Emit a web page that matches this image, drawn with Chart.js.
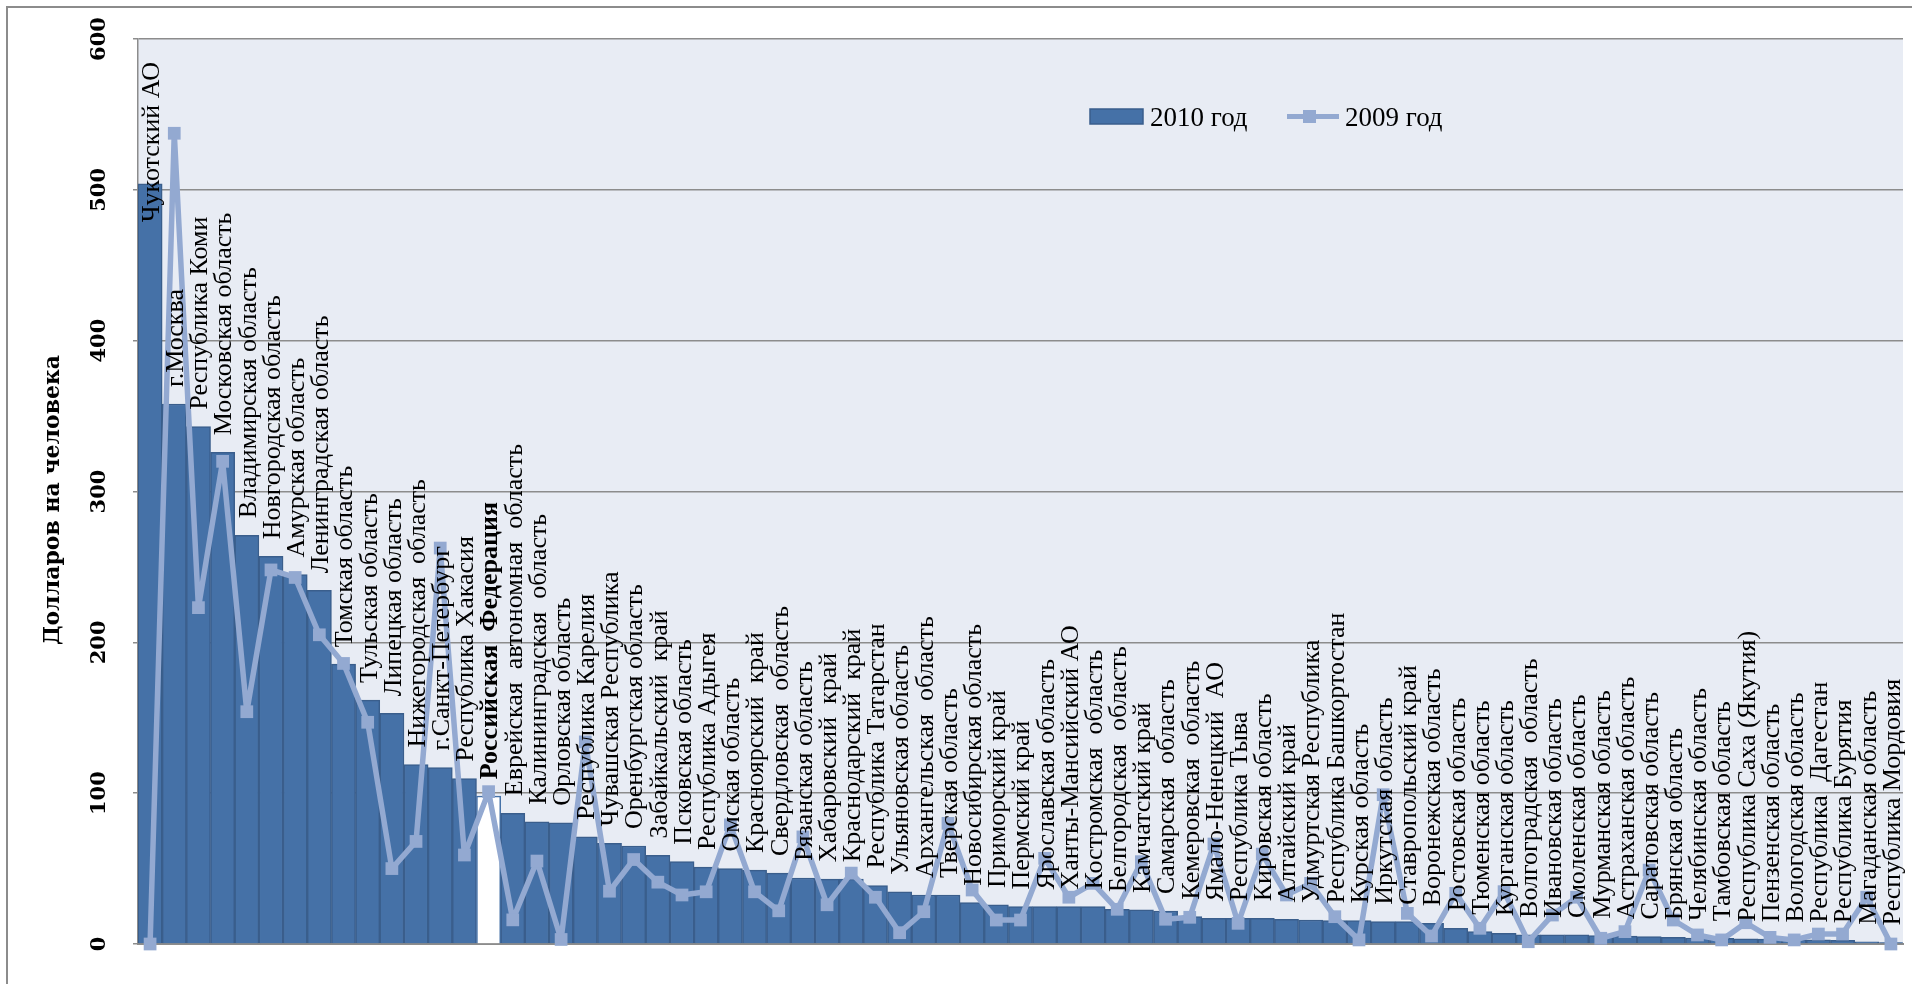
<!DOCTYPE html>
<html>
<head>
<meta charset="utf-8">
<script src="https://cdn.jsdelivr.net/npm/chart.js@4.4.0/dist/chart.umd.min.js"></script>
<style>
  body { margin: 0; background: #fff; }
  canvas { display: block; }
</style>
</head>
<body>
<canvas id="graficaRegiones" width="1912" height="984"></canvas>
<script>
/* регионы по убыванию, 2010 год */
const regiones = [
  'Чукотский АО', 'г.Москва', 'Республика Коми', 'Московская область', 'Владимирская область',
  'Новгородская область', 'Амурская область', 'Ленинградская область', 'Томская область', 'Тульская область',
  'Липецкая область', 'Нижегородская  область', 'г.Санкт-Петербург', 'Республика Хакасия', 'Российская  Федерация',
  'Еврейская  автономная  область', 'Калининградская  область', 'Орловская область', 'Республика Карелия', 'Чувашская Республика',
  'Оренбургская область', 'Забайкальский  край', 'Псковская область', 'Республика Адыгея', 'Омская область',
  'Красноярский  край', 'Свердловская  область', 'Рязанская область', 'Хабаровский  край', 'Краснодарский  край',
  'Республика Татарстан', 'Ульяновская область', 'Архангельская  область', 'Тверская область', 'Новосибирская область',
  'Приморский край', 'Пермский край', 'Ярославская область', 'Ханты-Мансийский АО', 'Костромская  область',
  'Белгородская  область', 'Камчатский край', 'Самарская  область', 'Кемеровская  область', 'Ямало-Ненецкий  АО',
  'Республика Тыва', 'Кировская область', 'Алтайский край', 'Удмуртская Республика', 'Республика Башкортостан',
  'Курская область', 'Иркутская область', 'Ставропольский край', 'Воронежская область', 'Ростовская область',
  'Тюменская область', 'Курганская область', 'Волгоградская  область', 'Ивановская область', 'Смоленская область',
  'Мурманская область', 'Астраханская область', 'Саратовская область', 'Брянская область', 'Челябинская область',
  'Тамбовская область', 'Республика Саха (Якутия)', 'Пензенская область', 'Вологодская область', 'Республика  Дагестан',
  'Республика Бурятия', 'Магаданская область', 'Республика Мордовия'
];

const valores2010 = [
  504, 358, 343, 326, 271, 257, 245, 234.5, 185.5, 161.7,
  153, 119, 117, 109.6, 98, 86.7, 81, 80.4, 71, 66.7,
  65, 58.75, 54.6, 51, 50, 49, 47, 43.75, 43, 43,
  38.75, 34.6, 32.5, 32.5, 27.4, 25.9, 24.8, 24.8, 24.8, 24.8,
  23, 22.6, 21.9, 18.1, 17, 17, 17, 16.3, 15.9, 15.5,
  15.5, 14.8, 14.8, 13.7, 10.4, 8.2, 7.1, 6, 6, 6,
  5.5, 5.2, 5, 4.5, 4, 3.8, 3.5, 3.2, 3, 2.8,
  2.5, 1.5, 1
];

const valores2009 = [
  0, 537.5, 223, 320, 154, 248, 243, 205, 186, 147,
  50, 68, 262.5, 59, 101, 16, 55, 3, 134, 35,
  56, 41, 32.5, 34.6, 79, 34.6, 22, 71, 26, 47,
  31, 7.5, 21.4, 80, 35.8, 15.9, 15.9, 56.8, 31, 40.2,
  23, 54.6, 16.4, 17.7, 66.3, 13.7, 59.6, 32.5, 40.2, 18.1,
  2.7, 99, 20.3, 5.3, 33.6, 10.4, 34.7, 1.5, 19.2, 31,
  3.8, 8.2, 49, 15.9, 6, 2.7, 14.1, 4.4, 2.7, 6.6,
  6.6, 31, 0
];

const ticksY = [0, 100, 200, 300, 400, 500, 600];
const indiceRF = 14; // Российская Федерация

const azul = '#4571a7';
const azulBorde = '#3a5e8c';
const azulClaro = '#93a9d1';
const gris = '#8c8c8c';

/* fondo, marco exterior */
const fondo = {
  id: 'fondo',
  beforeDraw(chart) {
    const { ctx, chartArea: a } = chart;
    ctx.save();
    ctx.fillStyle = '#fff';
    ctx.fillRect(0, 0, chart.width, chart.height);
    ctx.strokeStyle = gris;
    ctx.lineWidth = 2;
    ctx.strokeRect(7, 7, chart.width + 20, chart.height + 20);
    ctx.fillStyle = '#e8ecf4';
    ctx.fillRect(a.left, a.top, a.right - a.left, a.bottom - a.top);
    ctx.restore();
  }
};

/* etiquetas verticales encima de cada barra */
const etiquetas = {
  id: 'etiquetas',
  afterDatasetsDraw(chart) {
    const { ctx, chartArea } = chart;
    const meta = chart.getDatasetMeta(0);
    meta.data.forEach((bar, i) => {
      ctx.save();
      ctx.font = (i === indiceRF ? 'bold ' : '') + '26px "Liberation Serif"';
      const w = ctx.measureText(regiones[i]).width;
      let y = bar.y - 17;
      if (y - w < chartArea.top + 23) y = chartArea.top + 23 + w;
      ctx.translate(bar.x + 2, y);
      ctx.rotate(-Math.PI / 2);
      ctx.textAlign = 'left';
      ctx.textBaseline = 'middle';
      ctx.fillStyle = '#000';
      ctx.fillText(regiones[i], 0, 0);
      ctx.restore();
    });
  },
  afterDraw(chart) {
    const { ctx } = chart;
    const y = chart.scales.y;
    ctx.save();
    // ticks del eje Y, girados
    ctx.font = 'bold 21px "DejaVu Serif"';
    ctx.fillStyle = '#000';
    ctx.textAlign = 'center';
    ctx.textBaseline = 'middle';
    ticksY.forEach(v => {
      ctx.save();
      ctx.translate(100, y.getPixelForValue(v));
      ctx.rotate(-Math.PI / 2);
      ctx.fillText(String(v), 0, 0);
      ctx.restore();
    });
    // titulo del eje
    ctx.save();
    ctx.font = 'bold 22px "DejaVu Serif"';
    ctx.translate(53, 500);
    ctx.rotate(-Math.PI / 2);
    ctx.fillText('Долларов на человека', 0, 0);
    ctx.restore();

    // leyenda dentro del area
    ctx.font = '27px "Liberation Serif"';
    ctx.textAlign = 'left';
    ctx.textBaseline = 'alphabetic';
    ctx.fillStyle = azul;
    ctx.strokeStyle = azulBorde;
    ctx.lineWidth = 1.5;
    ctx.fillRect(1090, 109, 53, 15);
    ctx.strokeRect(1090, 109, 53, 15);
    ctx.fillStyle = '#000';
    ctx.fillText('2010 год', 1150, 126);
    ctx.strokeStyle = azulClaro;
    ctx.lineWidth = 5;
    ctx.beginPath();
    ctx.moveTo(1287, 116.5);
    ctx.lineTo(1339, 116.5);
    ctx.stroke();
    ctx.fillStyle = azulClaro;
    ctx.fillRect(1303, 110, 13, 13);
    ctx.fillStyle = '#000';
    ctx.fillText('2009 год', 1345, 126);
    ctx.restore();
  }
};

new Chart(document.getElementById('graficaRegiones').getContext('2d'), {
  data: {
    labels: regiones,
    datasets: [
      {
        type: 'bar',
        label: '2010 год',
        data: valores2010,
        backgroundColor: regiones.map((r, i) => i === indiceRF ? '#ffffff' : azul),
        borderColor: regiones.map((r, i) => i === indiceRF ? azul : azulBorde),
        borderWidth: 1.5,
        categoryPercentage: 1,
        barPercentage: 1,
        order: 2
      },
      {
        type: 'line',
        label: '2009 год',
        data: valores2009,
        borderColor: azulClaro,
        backgroundColor: azulClaro,
        borderWidth: 5.5,
        borderJoinStyle: 'round',
        borderCapStyle: 'round',
        pointStyle: 'rect',
        pointRadius: 9,
        pointBorderWidth: 0,
        pointBackgroundColor: azulClaro,
        tension: 0,
        clip: false,
        order: 1
      }
    ]
  },
  options: {
    responsive: false,
    animation: false,
    layout: { padding: { top: 39, right: 4, left: 0, bottom: 0 } },
    plugins: {
      legend: { display: false },
      tooltip: { enabled: false }
    },
    scales: {
      x: {
        ticks: { display: false },
        grid: { display: false },
        border: { display: true, color: gris, width: 2 },
        afterFit: s => { s.height = 40; }
      },
      y: {
        min: 0,
        max: 600,
        ticks: { display: false, stepSize: 100 },
        grid: { color: gris, lineWidth: 1.5, tickLength: 5 },
        border: { display: true, color: gris, width: 1.5 },
        afterFit: s => { s.width = 138; }
      }
    }
  },
  plugins: [fondo, etiquetas]
});
</script>
</body>
</html>
